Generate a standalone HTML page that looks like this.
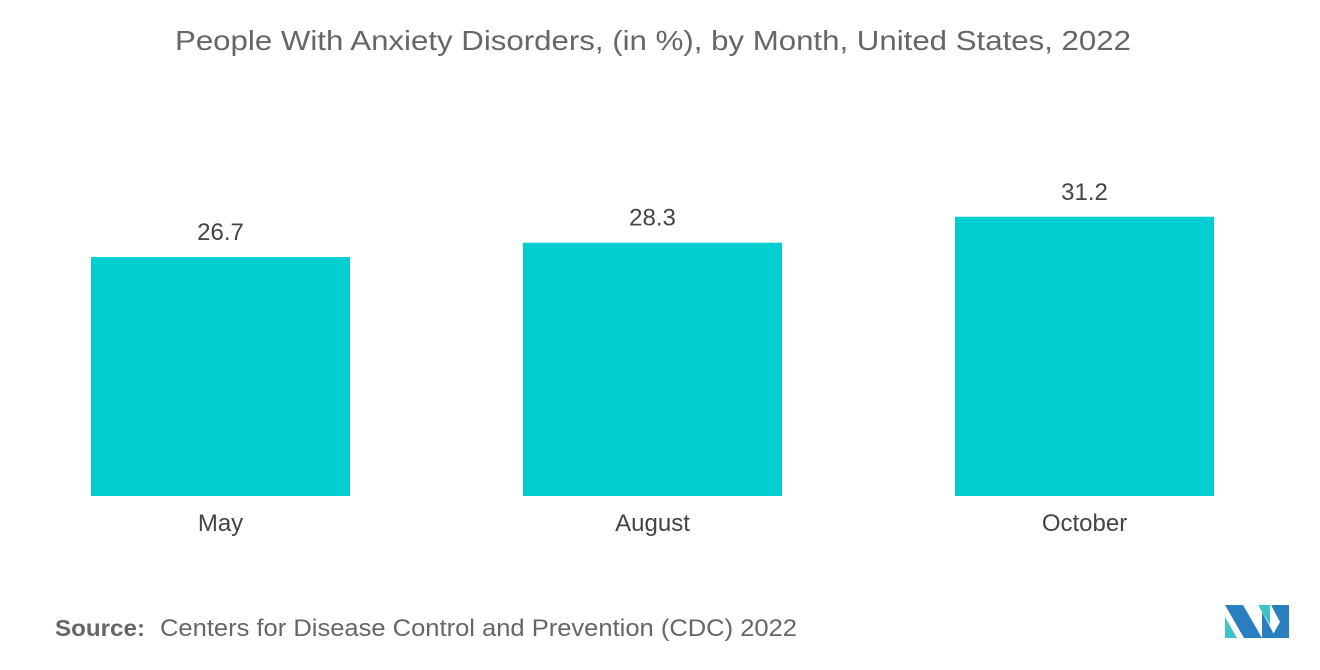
<!DOCTYPE html>
<html><head><meta charset="utf-8"><style>
body{margin:0;width:1320px;height:665px;background:#fff;font-family:"Liberation Sans",sans-serif;overflow:hidden}
</style></head><body>
<svg width="1320" height="665">
<text x="175" y="50" font-size="28" fill="#666" textLength="956" lengthAdjust="spacingAndGlyphs">People With Anxiety Disorders, (in %), by Month, United States, 2022</text>
<g id="bars"></g>
<text x="55" y="636" font-size="23" fill="#666" font-weight="bold" textLength="90" lengthAdjust="spacingAndGlyphs">Source:</text>
<text x="160" y="636" font-size="24" fill="#666" textLength="637" lengthAdjust="spacingAndGlyphs">Centers for Disease Control and Prevention (CDC) 2022</text>
<g>
<polygon points="1225,605 1243,605 1262,638 1244,638" fill="#2a7fc0"/>
<polygon points="1225,617 1225,638 1237,638" fill="#3cc4c8"/>
<polygon points="1258,605 1270,605 1270,625" fill="#3cc4c8"/>
<polygon points="1271,605 1289,605 1289,638 1271,638 1280,622" fill="#2a7fc0"/>
<polygon points="1262,612 1276,638 1262,638" fill="#2a7fc0"/>
</g>
</svg>
<script>
const categories=["May","August","October"];
const values=[26.7,28.3,31.2];
const labels=["26.7","28.3","31.2"];
const base=496, pxPer=8.95, x0=91, step=432, bw=259;
const y=v=>base-v*pxPer;
const g=document.getElementById('bars');
const ns="http://www.w3.org/2000/svg";
categories.forEach((c,i)=>{
 const x=x0+i*step;
 const r=document.createElementNS(ns,'rect');
 r.setAttribute('x',x);r.setAttribute('y',y(values[i]));r.setAttribute('width',bw);r.setAttribute('height',base-y(values[i]));r.setAttribute('fill','#00ced1');
 
 
 g.appendChild(r);
 const t=document.createElementNS(ns,'text');
 t.setAttribute('x',x+bw/2);t.setAttribute('y',y(values[i])-17);t.setAttribute('text-anchor','middle');t.setAttribute('font-size','24');t.setAttribute('fill','#444');
 t.textContent=labels[i];
 
 
 g.appendChild(t);
 const l=document.createElementNS(ns,'text');
 l.setAttribute('x',x+bw/2);l.setAttribute('y',531);l.setAttribute('text-anchor','middle');l.setAttribute('font-size','24');l.setAttribute('fill','#444');
 l.textContent=c;
 
 
 g.appendChild(l);
});
</script>
</body></html>
